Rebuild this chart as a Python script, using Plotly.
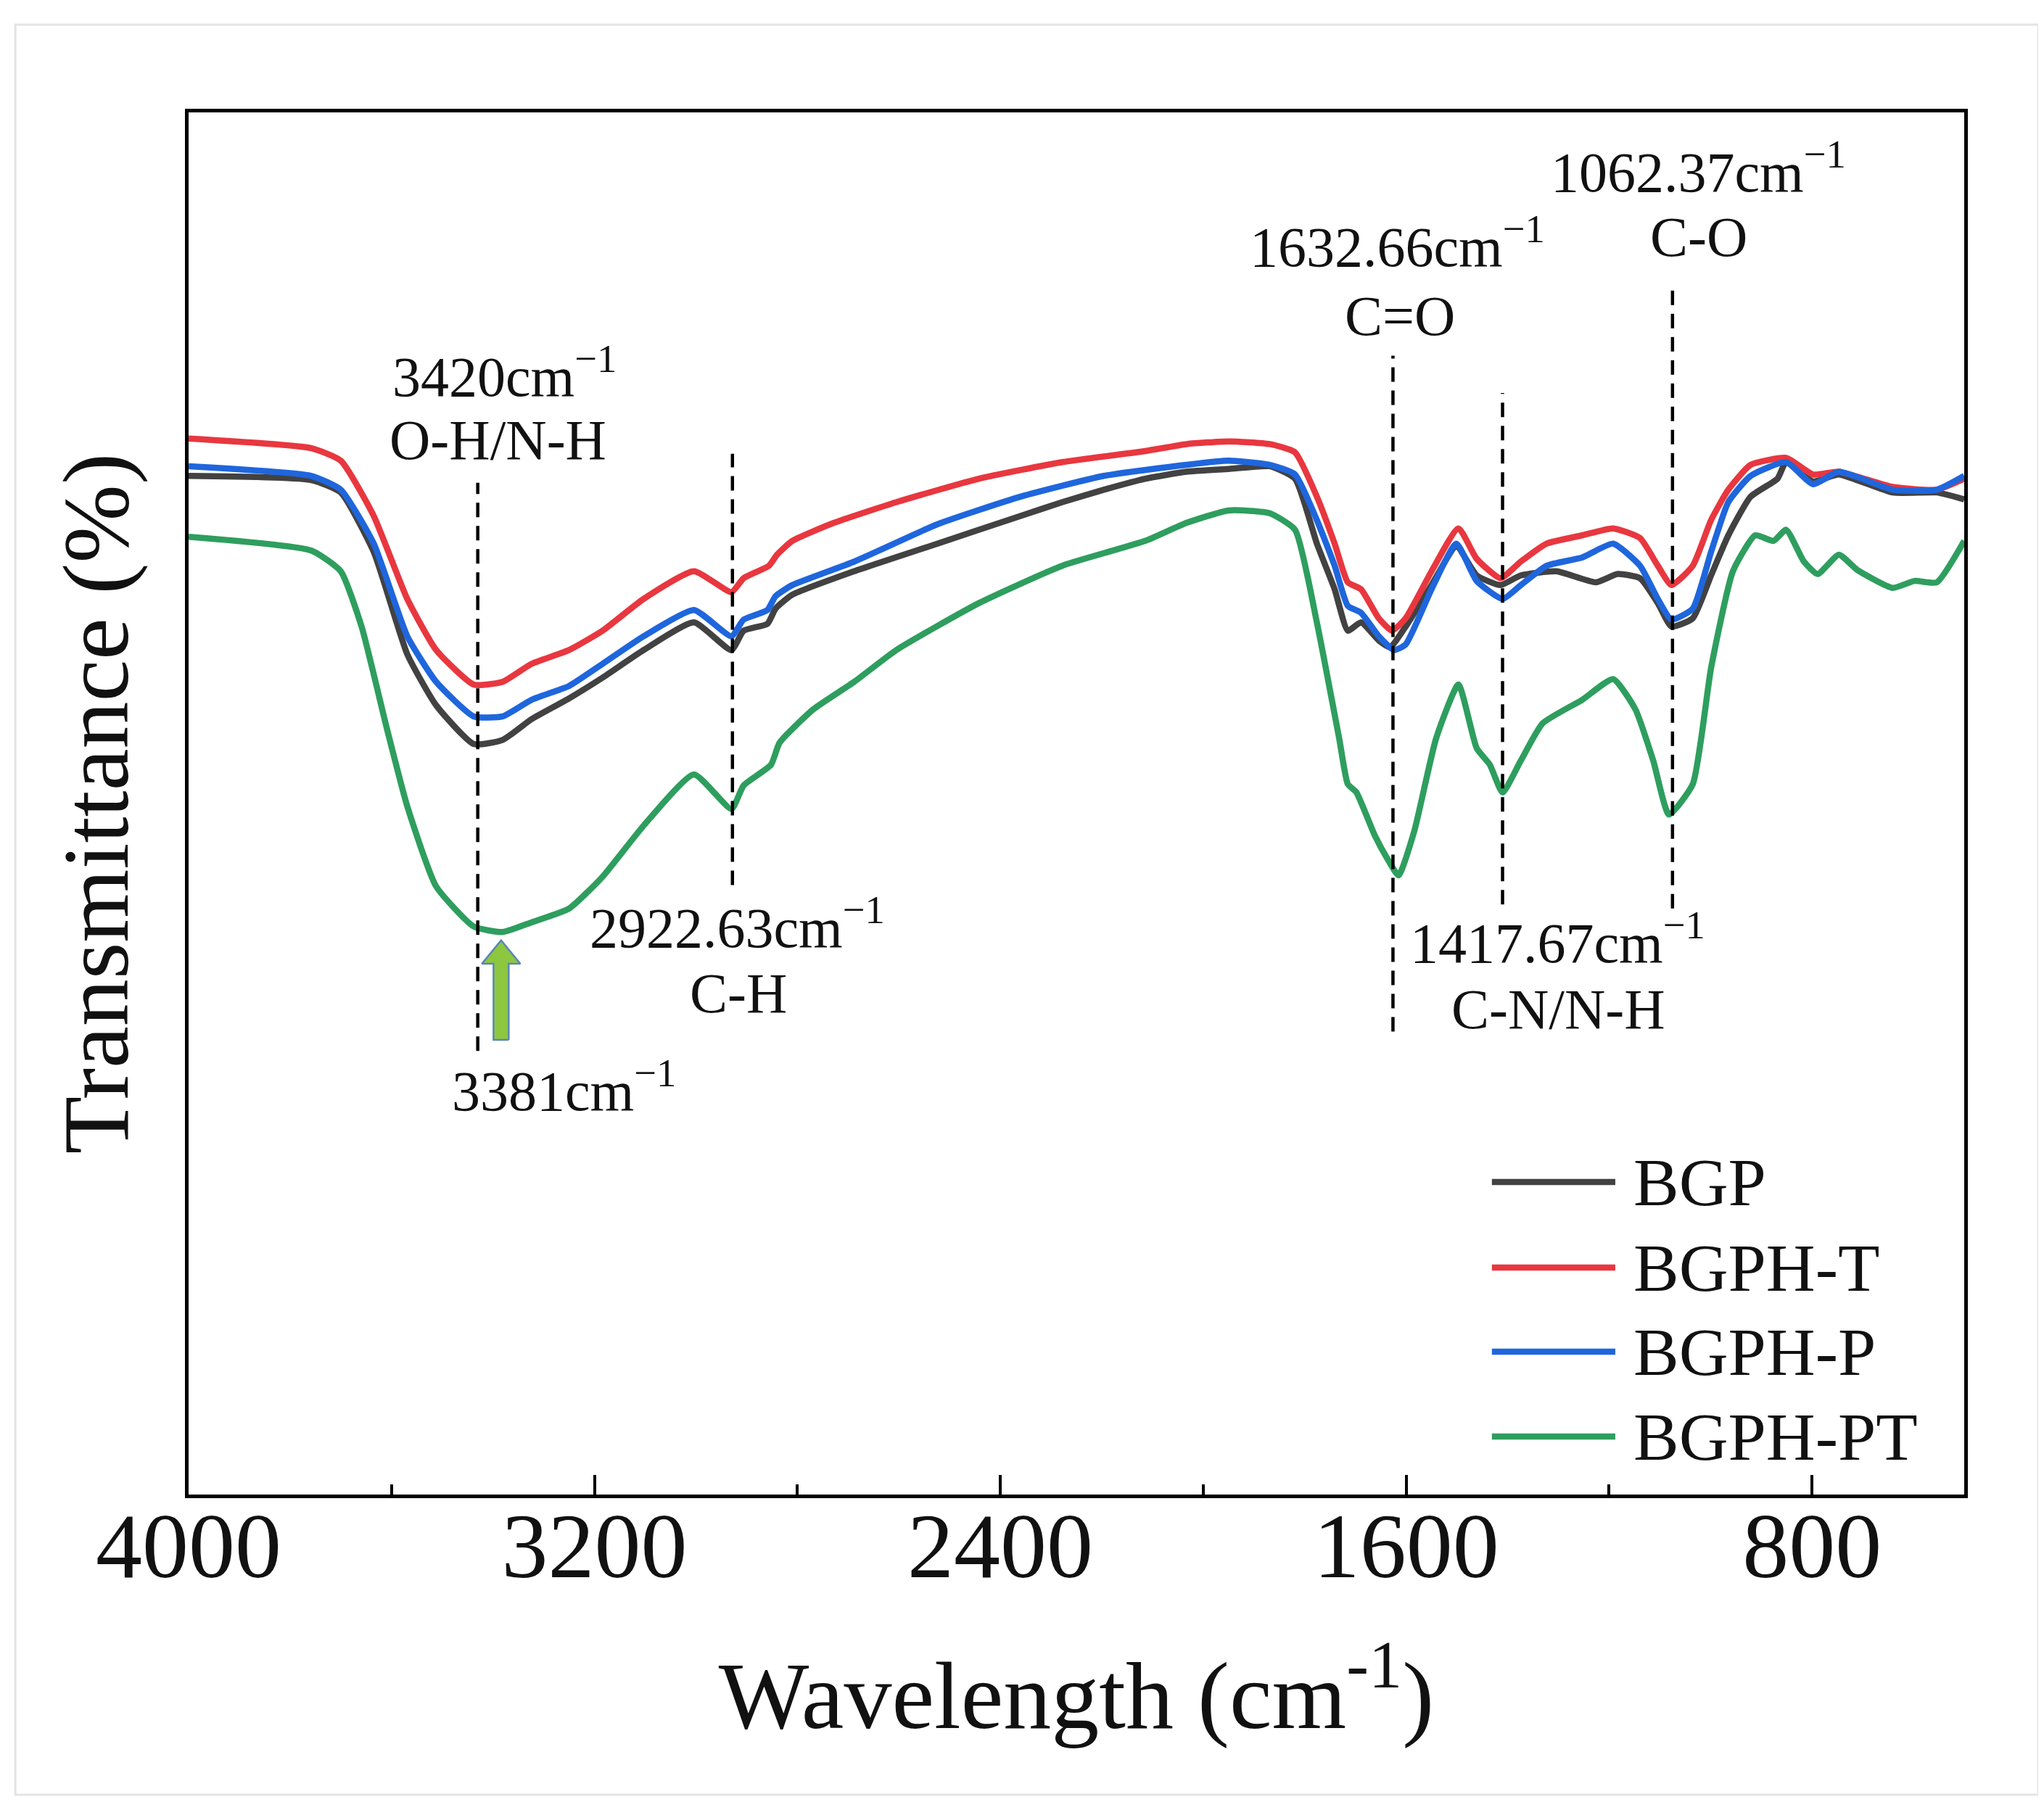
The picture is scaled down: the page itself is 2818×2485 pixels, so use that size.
import plotly.graph_objects as go

# FTIR spectra (wavenumber in cm-1, transmittance in arbitrary %)
bgp_wn = [4000, 3758, 3700, 3635, 3569, 3512, 3438, 3381, 3324, 3250,
          3184, 3103, 3004, 2930, 2906, 2859, 2843, 2810, 2688, 2524,
          2360, 2278, 2196, 2114, 2033, 1950, 1869,
          1819, 1776, 1741, 1715, 1689, 1654, 1632, 1601, 1550, 1501,
          1461, 1414, 1374, 1304, 1226, 1183, 1139, 1104, 1077, 1035,
          999, 965, 921, 868, 851, 798, 747, 641, 554, 500]
bgp_t = [73.7, 73.4, 72.5, 68.2, 60.8, 57.1, 54.3, 54.6, 56.1, 57.6,
         59.1, 61.1, 63.1, 61.1, 62.5, 63.0, 64.1, 65.1, 66.8, 68.8,
         70.8, 71.8, 72.7, 73.5, 74.0, 74.2, 74.4,
         73.5, 68.8, 65.5, 62.5, 63.1, 61.8, 61.3, 62.8, 65.8, 68.6,
         66.5, 65.8, 66.5, 66.8, 66.0, 66.6, 66.3, 64.5, 62.8, 63.4,
         66.5, 69.4, 72.2, 73.5, 74.7, 73.3, 73.8, 72.5, 72.5, 72.0]

bgpht_wn = [4000, 3758, 3700, 3635, 3569, 3512, 3438, 3381, 3324, 3250,
            3184, 3103, 3004, 2930, 2906, 2856, 2840, 2810, 2728, 2605,
            2442, 2278, 2114, 2033, 1950, 1869,
            1819, 1776, 1741, 1715, 1689, 1654, 1628, 1601, 1550, 1497,
            1461, 1414, 1374, 1323, 1253, 1192, 1139, 1104, 1077, 1035,
            999, 965, 921, 851, 798, 747, 641, 554, 500]
bgpht_t = [76.4, 75.7, 74.8, 70.8, 64.8, 61.1, 58.6, 58.8, 60.1, 61.1,
           62.5, 64.8, 66.8, 65.3, 66.3, 67.2, 68.0, 69.0, 70.3, 71.8,
           73.5, 74.7, 75.5, 76.0, 76.2, 76.0,
           75.4, 72.2, 68.8, 66.0, 65.5, 63.4, 62.5, 63.4, 66.8, 69.9,
           67.7, 66.3, 67.5, 68.8, 69.4, 69.9, 69.2, 67.2, 65.8, 67.2,
           70.5, 72.7, 74.5, 75.0, 73.8, 74.0, 72.9, 72.7, 73.5]

bgphp_wn = [4000, 3758, 3700, 3635, 3569, 3512, 3438, 3381, 3324, 3250,
            3184, 3103, 3004, 2930, 2906, 2859, 2843, 2810, 2688, 2524,
            2360, 2196, 2033, 1950, 1869,
            1819, 1776, 1741, 1715, 1689, 1654, 1624, 1601, 1550, 1501,
            1461, 1410, 1374, 1323, 1253, 1192, 1139, 1104, 1077, 1035,
            999, 965, 921, 851, 798, 747, 641, 554, 500]
bgphp_t = [74.4, 73.7, 72.7, 68.8, 62.1, 58.8, 56.3, 56.3, 57.5, 58.5,
           60.1, 62.1, 64.0, 62.1, 63.3, 64.0, 65.0, 65.8, 67.5, 70.2,
           72.2, 73.7, 74.5, 74.8, 74.5,
           73.8, 70.5, 67.2, 64.3, 63.8, 62.1, 61.1, 61.5, 65.5, 68.8,
           66.1, 64.8, 65.8, 67.2, 67.8, 68.8, 67.2, 64.8, 63.3, 64.1,
           68.2, 71.8, 73.7, 74.7, 73.1, 74.0, 72.7, 72.7, 73.7]

bgphpt_wn = [4000, 3758, 3700, 3659, 3609, 3569, 3512, 3438, 3381, 3324,
             3250, 3184, 3103, 3004, 2930, 2906, 2852, 2835, 2769, 2688,
             2605, 2442, 2278, 2114, 2033, 1950, 1869,
             1819, 1776, 1732, 1715, 1698, 1662, 1637, 1615, 1584, 1541,
             1497, 1461, 1435, 1410, 1374, 1331, 1253, 1192, 1148, 1113,
             1082, 1035, 999, 956, 912, 876, 851, 816, 789, 747,
             711, 641, 598, 554, 500]
bgphpt_t = [69.3, 68.3, 66.8, 62.8, 55.4, 49.8, 44.0, 41.1, 40.7, 41.4,
            42.4, 44.7, 48.4, 52.1, 49.6, 51.3, 52.8, 54.4, 56.8, 58.8,
            61.1, 64.5, 67.2, 69.0, 70.3, 71.2, 71.0,
            69.8, 63.1, 54.7, 51.4, 50.8, 47.7, 46.0, 44.8, 48.0, 54.7,
            58.6, 54.0, 52.8, 50.8, 53.1, 55.8, 57.5, 59.0, 56.8, 53.1,
            49.2, 51.4, 59.8, 66.8, 69.4, 69.0, 69.8, 67.5, 66.6, 68.0,
            66.9, 65.6, 66.1, 66.0, 69.0]

names = ["BGP", "BGPH-T", "BGPH-P", "BGPH-PT"]
colors = ["#424242", "#e8373f", "#1f66dd", "#2e9e5e"]
series = [(bgp_wn, bgp_t), (bgpht_wn, bgpht_t), (bgphp_wn, bgphp_t), (bgphpt_wn, bgphpt_t)]

# peak markers: where the dashed line sits, its vertical span, label text
peak_x = [3430, 2928, 1626, 1410, 1075]
peak_y0 = [32.1, 44.1, 33.5, 42.7, 42.4]
peak_y1 = [73.2, 75.3, 82.4, 79.7, 87.7]
peak_nums = ["3420", "2922.63", "1632.66", "1417.67", "1062.37"]
peak_groups = ["O-H/N-H", "C-H", "C=O", "C-N/N-H", "C-O"]
num_pos = [(3378, 81.2), (2918, 41.3), (1617, 90.6), (1302, 40.2), (1024, 96.0)]
grp_pos = [(3390, 76.3), (2916, 36.3), (1612, 85.3), (1300, 35.1), (1024, 91.0)]

shift_label = "3381"
shift_pos = (3260, 29.5)

FONT = "Liberation Serif"

fig = go.Figure()

for (wn, t), name, col in zip(series, names, colors):
    fig.add_trace(go.Scatter(x=wn, y=t, name=name, mode="lines",
                             line=dict(color=col, width=8.5, shape="spline", smoothing=0.5),
                             showlegend=False))

# green block arrow pointing at the shifted O-H band
cx, bw, hw = 3384, 15, 38
tip, head, base = 40.1, 38.4, 32.9
fig.add_trace(go.Scatter(
    x=[cx - bw, cx - bw, cx - hw, cx, cx + hw, cx + bw, cx + bw, cx - bw],
    y=[base, head, head, tip, head, head, base, base],
    mode="lines", fill="toself", fillcolor="#8dc63f",
    line=dict(color="#5a86b5", width=2.5), showlegend=False, hoverinfo="skip"))

shapes = []
for px_, y0, y1 in zip(peak_x, peak_y0, peak_y1):
    shapes.append(dict(type="line", xref="x", yref="y", x0=px_, x1=px_, y0=y0, y1=y1,
                       line=dict(color="black", width=4.5, dash="20px,12px")))

# outer light frame of the figure
shapes.append(dict(type="rect", xref="paper", yref="paper", x0=-0.0976, x1=1.0417,
                   y0=-0.2172, y1=1.0635, line=dict(color="#e4e4e4", width=3)))

annotations = []
for txt, (ax, ay) in zip(peak_nums, num_pos):
    annotations.append(dict(x=ax, y=ay, xref="x", yref="y", showarrow=False,
                            text=txt + "cm<sup>\u22121</sup>",
                            font=dict(family=FONT, size=78, color="#111")))
for txt, (ax, ay) in zip(peak_groups, grp_pos):
    annotations.append(dict(x=ax, y=ay, xref="x", yref="y", showarrow=False, text=txt,
                            font=dict(family=FONT, size=78, color="#111")))
annotations.append(dict(x=shift_pos[0], y=shift_pos[1], xref="x", yref="y", showarrow=False,
                        text=shift_label + "cm<sup>\u22121</sup>",
                        font=dict(family=FONT, size=78, color="#111")))

# legend drawn by hand so the line samples are long like the original
leg_y = [0.2261, 0.1642, 0.1034, 0.0420]
for name, col, ly in zip(names, colors, leg_y):
    shapes.append(dict(type="line", xref="paper", yref="paper", x0=0.7340, x1=0.8035,
                       y0=ly, y1=ly, line=dict(color=col, width=8.5)))
    annotations.append(dict(x=0.8130, y=ly, xref="paper", yref="paper", showarrow=False,
                            xanchor="left", yanchor="middle", text=name,
                            font=dict(family=FONT, size=94, color="#111")))

fig.update_layout(
    width=2818, height=2485,
    margin=dict(l=252, r=118, t=147, b=432),
    paper_bgcolor="white", plot_bgcolor="white",
    font=dict(family=FONT, color="black"),
    shapes=shapes, annotations=annotations,
    xaxis=dict(range=[4000, 500], tickvals=[4000, 3200, 2400, 1600, 800],
               ticks="inside", ticklen=27, tickwidth=4, tickcolor="black",
               minor=dict(tickvals=[3600, 2800, 2000, 1200], ticks="inside",
                          ticklen=14, tickwidth=4, tickcolor="black"),
               showline=True, linewidth=5, linecolor="black", mirror=True,
               showgrid=False, zeroline=False,
               tickfont=dict(family=FONT, size=128, color="#111"),
               ticklabelstandoff=-45,
               title=dict(text="Wavelength (cm<sup>-1</sup>)", standoff=90,
                          font=dict(family=FONT, size=132, color="#111"))),
    yaxis=dict(range=[0, 100], showticklabels=False, ticks="",
               showline=True, linewidth=5, linecolor="black", mirror=True,
               showgrid=False, zeroline=False,
               title=dict(text="Transmittance (%)", standoff=36,
                          font=dict(family=FONT, size=130, color="#111"))),
)

fig.write_html("out.html")
